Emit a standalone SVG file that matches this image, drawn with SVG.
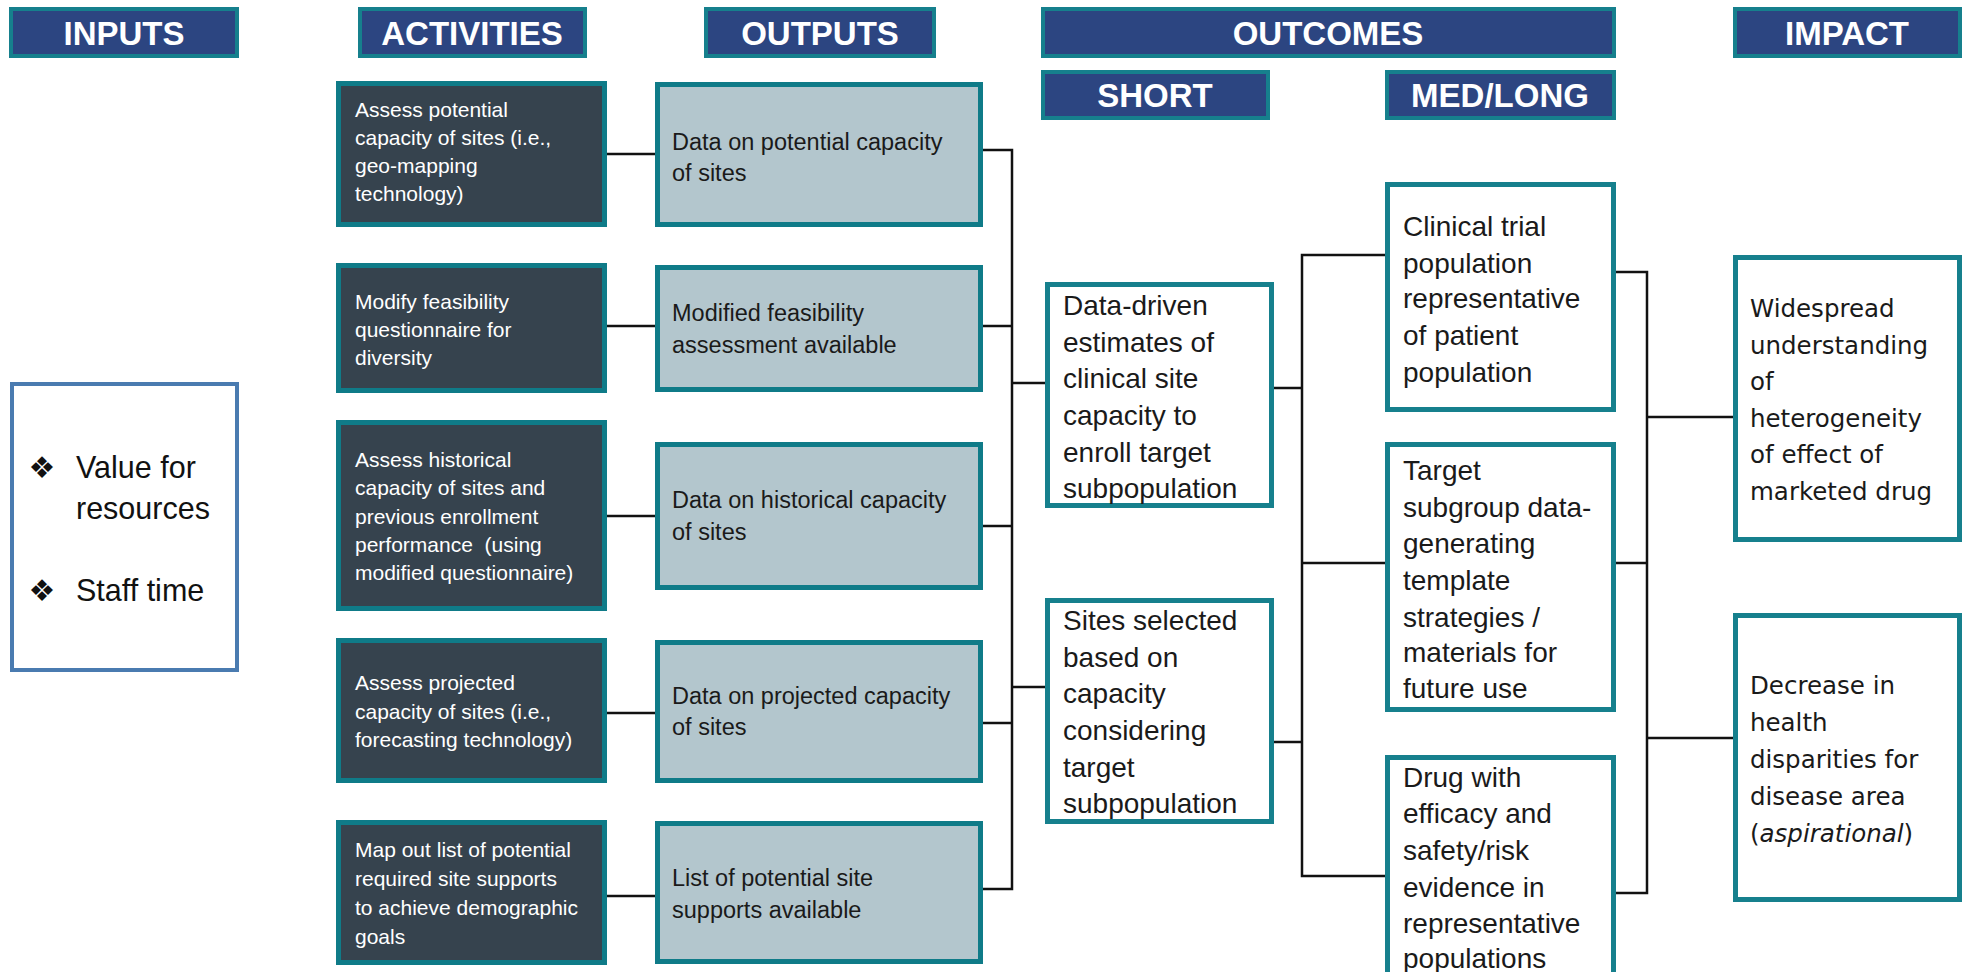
<svg xmlns="http://www.w3.org/2000/svg" width="1965" height="972" viewBox="0 0 1965 972">
<style>
.hdr{fill:#2c4581;stroke:#16808d;stroke-width:4}
.hdt{font-family:"Liberation Sans",Arial,sans-serif;font-weight:bold;font-size:33px;fill:#ffffff;text-anchor:middle}
.act{fill:#36434e;stroke:#0f7b88;stroke-width:5}
.out{fill:#b3c6cd;stroke:#0f7b88;stroke-width:5}
.wht{fill:#ffffff;stroke:#16808d;stroke-width:5}
.inp{fill:#ffffff;stroke:#4a7bb0;stroke-width:4}
.ta{font-family:"Liberation Sans",Arial,sans-serif;font-size:21px;fill:#ffffff}
.to{font-family:"Liberation Sans",Arial,sans-serif;font-size:23.5px;fill:#1a1a1a}
.ts{font-family:"Liberation Sans",Arial,sans-serif;font-size:28px;fill:#1a1a1a}
.ti{font-family:"DejaVu Sans",Verdana,sans-serif;font-size:24.5px;fill:#1a1a1a}
.tin{font-family:"Liberation Sans",Arial,sans-serif;font-size:30.5px;fill:#111111}
.bul{font-family:"DejaVu Sans",sans-serif;font-size:30px;fill:#111111;text-anchor:middle}
.con{fill:none;stroke:#111111;stroke-width:2.5}
</style>

<g id="headers">
<g id="h-inputs"><rect class="hdr" x="11" y="9" width="226" height="47"/><text class="hdt" x="124" y="45">INPUTS</text></g>
<g id="h-activities"><rect class="hdr" x="360" y="9" width="225" height="47"/><text class="hdt" x="472" y="45">ACTIVITIES</text></g>
<g id="h-outputs"><rect class="hdr" x="706" y="9" width="228" height="47"/><text class="hdt" x="820" y="45">OUTPUTS</text></g>
<g id="h-outcomes"><rect class="hdr" x="1043" y="9" width="571" height="47"/><text class="hdt" x="1328" y="45">OUTCOMES</text></g>
<g id="h-impact"><rect class="hdr" x="1735" y="9" width="225" height="47"/><text class="hdt" x="1847" y="45">IMPACT</text></g>
<g id="h-short"><rect class="hdr" x="1043" y="72" width="225" height="46"/><text class="hdt" x="1155" y="107">SHORT</text></g>
<g id="h-medlong"><rect class="hdr" x="1387" y="72" width="227" height="46"/><text class="hdt" x="1500" y="107">MED/LONG</text></g>
</g>

<g id="connectors">
<path class="con" d="M607 154H655M607 326H655M607 516H655M607 713H655M607 896H655"/>
<path class="con" d="M983 150H1012V889H983M983 326H1012M983 526H1012M983 723H1012M1012 383H1045M1012 687H1045"/>
<path class="con" d="M1274 388H1302M1274 742H1302M1385 255H1302V876H1385M1302 563H1385"/>
<path class="con" d="M1616 272H1647V893H1616M1616 563H1647M1647 417H1733M1647 738H1733"/>
</g>

<g id="inputs">
<rect class="inp" x="12" y="384" width="225" height="286"/>
<text class="bul" x="42" y="478">❖</text>
<text class="tin" x="76" y="478">Value for</text>
<text class="tin" x="76" y="519">resources</text>
<text class="bul" x="42" y="601">❖</text>
<text class="tin" x="76" y="601">Staff time</text>
</g>

<g id="act1"><rect class="act" x="338.5" y="83.5" width="266" height="141"/>
<text class="ta" x="355" y="117">Assess potential</text><text class="ta" x="355" y="145">capacity of sites (i.e.,</text><text class="ta" x="355" y="173">geo-mapping</text><text class="ta" x="355" y="201">technology)</text></g>
<g id="act2"><rect class="act" x="338.5" y="265.5" width="266" height="125"/>
<text class="ta" x="355" y="309">Modify feasibility</text><text class="ta" x="355" y="337">questionnaire for</text><text class="ta" x="355" y="365">diversity</text></g>
<g id="act3"><rect class="act" x="338.5" y="422.5" width="266" height="186"/>
<text class="ta" x="355" y="467">Assess historical</text><text class="ta" x="355" y="495">capacity of sites and</text><text class="ta" x="355" y="524">previous enrollment</text><text class="ta" x="355" y="552" xml:space="preserve">performance  (using</text><text class="ta" x="355" y="580">modified questionnaire)</text></g>
<g id="act4"><rect class="act" x="338.5" y="640.5" width="266" height="140"/>
<text class="ta" x="355" y="690">Assess projected</text><text class="ta" x="355" y="719">capacity of sites (i.e.,</text><text class="ta" x="355" y="747">forecasting technology)</text></g>
<g id="act5"><rect class="act" x="338.5" y="822.5" width="266" height="140"/>
<text class="ta" x="355" y="857">Map out list of potential</text><text class="ta" x="355" y="886">required site supports</text><text class="ta" x="355" y="915">to achieve demographic</text><text class="ta" x="355" y="944">goals</text></g>

<g id="out1"><rect class="out" x="657.5" y="84.5" width="323" height="140"/>
<text class="to" x="672" y="150">Data on potential capacity</text><text class="to" x="672" y="181">of sites</text></g>
<g id="out2"><rect class="out" x="657.5" y="267.5" width="323" height="122"/>
<text class="to" x="672" y="321">Modified feasibility</text><text class="to" x="672" y="353">assessment available</text></g>
<g id="out3"><rect class="out" x="657.5" y="444.5" width="323" height="143"/>
<text class="to" x="672" y="508">Data on historical capacity</text><text class="to" x="672" y="540">of sites</text></g>
<g id="out4"><rect class="out" x="657.5" y="642.5" width="323" height="138"/>
<text class="to" x="672" y="704">Data on projected capacity</text><text class="to" x="672" y="735">of sites</text></g>
<g id="out5"><rect class="out" x="657.5" y="823.5" width="323" height="138"/>
<text class="to" x="672" y="886">List of potential site</text><text class="to" x="672" y="918">supports available</text></g>

<g id="short1"><rect class="wht" x="1047.5" y="284.5" width="224" height="221"/>
<text class="ts" x="1063" y="315">Data-driven</text><text class="ts" x="1063" y="352">estimates of</text><text class="ts" x="1063" y="388">clinical site</text><text class="ts" x="1063" y="425">capacity to</text><text class="ts" x="1063" y="462">enroll target</text><text class="ts" x="1063" y="498">subpopulation</text></g>
<g id="short2"><rect class="wht" x="1047.5" y="600.5" width="224" height="221"/>
<text class="ts" x="1063" y="630">Sites selected</text><text class="ts" x="1063" y="667">based on</text><text class="ts" x="1063" y="703">capacity</text><text class="ts" x="1063" y="740">considering</text><text class="ts" x="1063" y="777">target</text><text class="ts" x="1063" y="813">subpopulation</text></g>

<g id="med1"><rect class="wht" x="1387.5" y="184.5" width="226" height="225"/>
<text class="ts" x="1403" y="236">Clinical trial</text><text class="ts" x="1403" y="273">population</text><text class="ts" x="1403" y="308">representative</text><text class="ts" x="1403" y="345">of patient</text><text class="ts" x="1403" y="382">population</text></g>
<g id="med2"><rect class="wht" x="1387.5" y="444.5" width="226" height="265"/>
<text class="ts" x="1403" y="480">Target</text><text class="ts" x="1403" y="517">subgroup data-</text><text class="ts" x="1403" y="553">generating</text><text class="ts" x="1403" y="590">template</text><text class="ts" x="1403" y="627">strategies /</text><text class="ts" x="1403" y="662">materials for</text><text class="ts" x="1403" y="698">future use</text></g>
<g id="med3"><rect class="wht" x="1387.5" y="757.5" width="226" height="230"/>
<text class="ts" x="1403" y="787">Drug with</text><text class="ts" x="1403" y="823">efficacy and</text><text class="ts" x="1403" y="860">safety/risk</text><text class="ts" x="1403" y="897">evidence in</text><text class="ts" x="1403" y="933">representative</text><text class="ts" x="1403" y="968">populations</text></g>

<g id="impact1"><rect class="wht" x="1735.5" y="257.5" width="224" height="282"/>
<text class="ti" x="1750" y="317">Widespread</text><text class="ti" x="1750" y="354">understanding</text><text class="ti" x="1750" y="390">of</text><text class="ti" x="1750" y="427">heterogeneity</text><text class="ti" x="1750" y="463">of effect of</text><text class="ti" x="1750" y="500">marketed drug</text></g>
<g id="impact2"><rect class="wht" x="1735.5" y="615.5" width="224" height="284"/>
<text class="ti" x="1750" y="694">Decrease in</text><text class="ti" x="1750" y="731">health</text><text class="ti" x="1750" y="768">disparities for</text><text class="ti" x="1750" y="805">disease area</text><text class="ti" x="1750" y="842">(<tspan font-style="italic">aspirational</tspan>)</text></g>
</svg>
